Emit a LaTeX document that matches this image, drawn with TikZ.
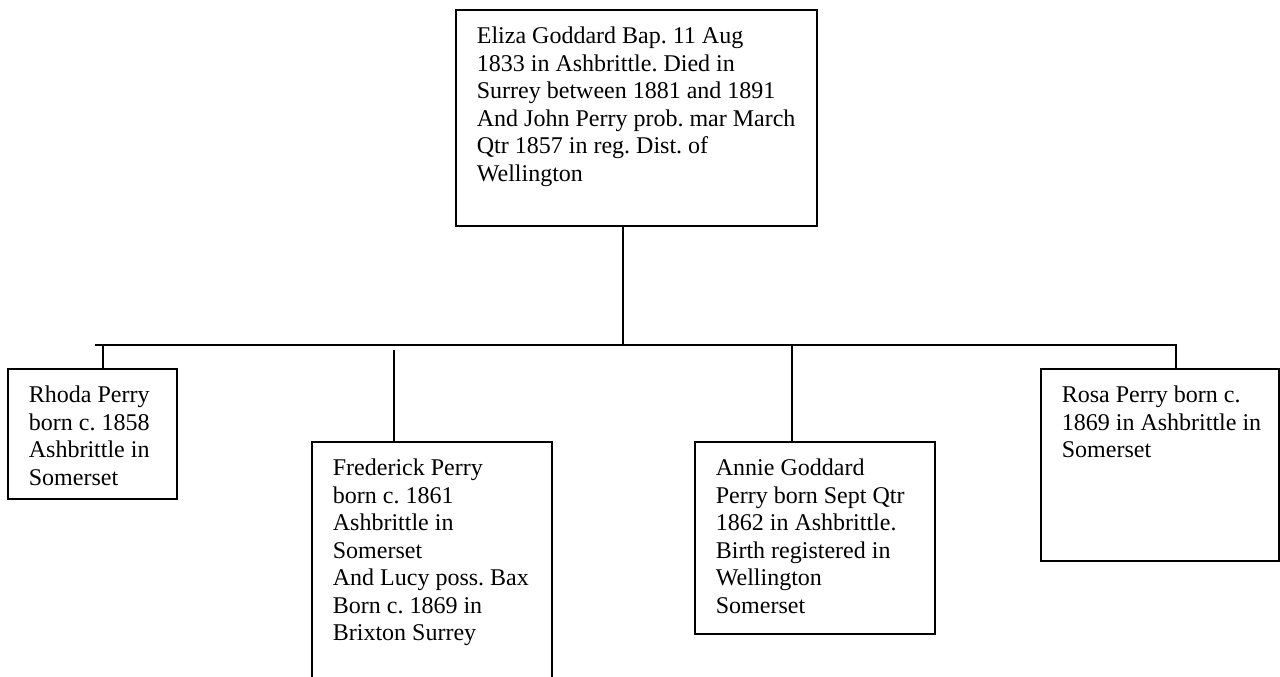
\documentclass[tikz,border=0pt]{standalone}
\usepackage{fontspec}
\setmainfont{Liberation Serif}
\frenchspacing
\newcommand{\bx}[3]{\parbox[c][\dimexpr 0.75pt*#2\relax][t]{\dimexpr 0.75pt*#1-31.5pt\relax}{\raggedright\frenchspacing\rule{0pt}{25.5pt}#3}}
\begin{document}
\begin{tikzpicture}[x=0.75pt,y=-0.75pt,line width=1.3pt,
  person/.style={draw=black, rectangle, anchor=north west, inner xsep=15.75pt, inner ysep=0pt,
    font=\fontsize{18pt}{20.6pt}\selectfont}]
\clip (0,0) rectangle (1280,677);
\fill[white] (0,0) rectangle (1280,677);

\node[person] (top) at (455,9) {\bx{361}{216}{Eliza Goddard Bap. 11 Aug\\1833 in Ashbrittle. Died in\\Surrey between 1881 and 1891\\And John Perry prob. mar March\\Qtr 1857 in reg. Dist. of\\Wellington}};
\node[person] (rhoda) at (7,368) {\bx{169}{130}{Rhoda Perry\\born c. 1858\\Ashbrittle in\\Somerset}};
\node[person] (fred) at (311,441) {\bx{240}{260}{Frederick Perry\\born c. 1861\\Ashbrittle in\\Somerset\\\mbox{And Lucy poss. Bax}\\Born c. 1869 in\\Brixton Surrey}};
\node[person] (annie) at (694,441) {\bx{240}{192}{Annie Goddard\\\mbox{Perry born Sept Qtr}\\1862 in Ashbrittle.\\Birth registered in\\Wellington\\Somerset}};
\node[person] (rosa) at (1040,368) {\bx{238}{192}{Rosa Perry born c.\\\mbox{1869 in Ashbrittle in}\\Somerset}};

\coordinate (bar) at (623,345);
\coordinate (barL) at (95,345);
\coordinate (rhodaStem) at (103,345);
\coordinate (fredStem) at (394,350);
\coordinate (annieStem) at (792,345);
\coordinate (rosaStem) at (1176,345);

\draw (bar |- top.south) -- (bar);
\draw (barL) -- (rosaStem) -- (rosaStem |- rosa.north);
\draw (rhodaStem) -- (rhodaStem |- rhoda.north);
\draw (fredStem) -- (fredStem |- fred.north);
\draw (annieStem) -- (annieStem |- annie.north);
\end{tikzpicture}
\end{document}
